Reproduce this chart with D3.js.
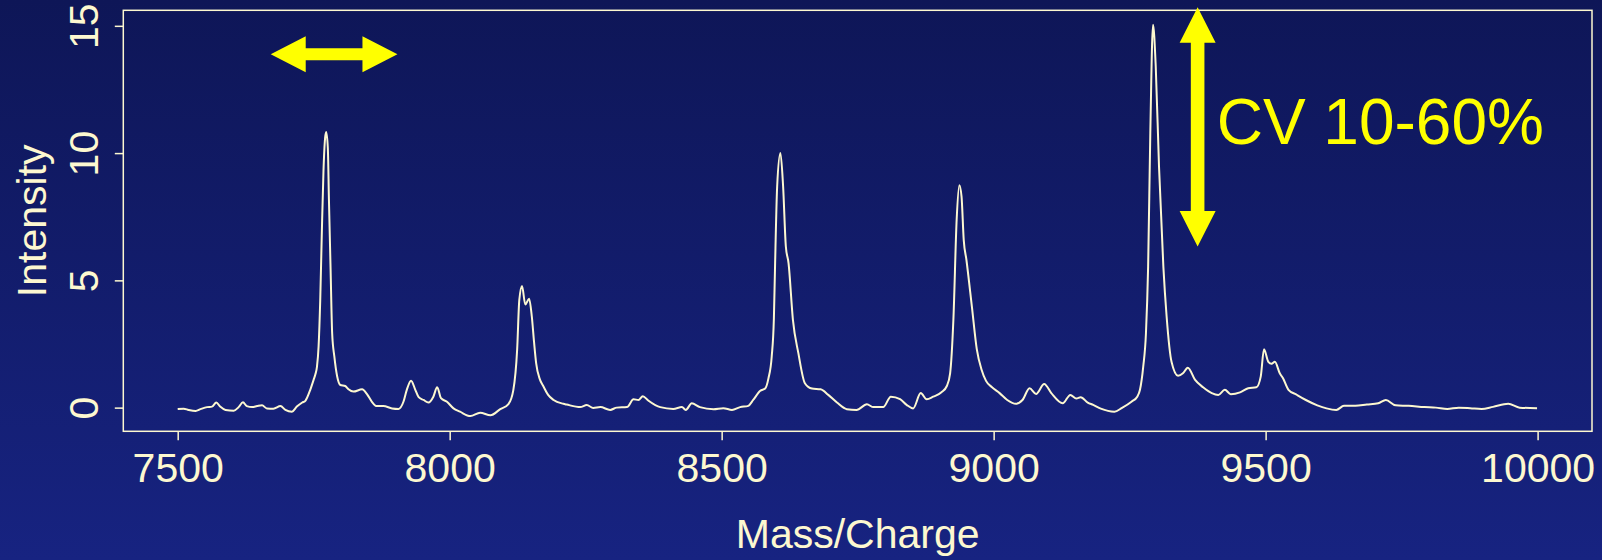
<!DOCTYPE html>
<html>
<head>
<meta charset="utf-8">
<script src="https://cdn.jsdelivr.net/npm/d3@7/dist/d3.min.js"></script>
<style>
  html, body { margin: 0; padding: 0; background: #121c6c; }
  svg { display: block; }
  text { font-family: "Liberation Sans", Arial, Helvetica, sans-serif; }
</style>
</head>
<body>
<svg id="chart" width="1602" height="560"></svg>
<script>
// Mass spectrum: m/z positions and intensities
const massCharge = [
  7500, 7511, 7520, 7533, 7542, 7554, 7563, 7571, 7578, 7588,
  7603, 7612, 7620, 7627, 7637, 7646, 7655, 7664, 7676, 7689,
  7698, 7710, 7719, 7729, 7735, 7744, 7750, 7753, 7756, 7759,
  7762, 7765, 7768, 7771, 7773, 7776, 7778, 7781, 7784, 7788,
  7793, 7799, 7808, 7814, 7823, 7839, 7848, 7857, 7866, 7878,
  7894, 7906, 7915, 7921, 7929, 7937, 7943, 7952, 7961, 7970,
  7977, 7984, 7995, 8007, 8019, 8038, 8056, 8075, 8093, 8108,
  8117, 8124, 8128, 8133, 8139, 8146, 8151, 8155, 8159, 8166,
  8172, 8181, 8191, 8209, 8215, 8240, 8252, 8264, 8277, 8295,
  8307, 8326, 8338, 8347, 8355, 8365, 8378, 8387, 8411, 8427,
  8434, 8445, 8460, 8485, 8503, 8519, 8534, 8549, 8558, 8571,
  8580, 8586, 8592, 8596, 8598, 8602, 8608, 8613, 8618, 8623,
  8631, 8641, 8653, 8666, 8682, 8696, 8712, 8730, 8748, 8767,
  8779, 8797, 8811, 8828, 8840, 8852, 8866, 8877, 8889, 8904,
  8914, 8920, 8926, 8932, 8937, 8941, 8945, 8950, 8960, 8969,
  8978, 8986, 8997, 9011, 9025, 9041, 9053, 9066, 9078, 9093,
  9106, 9127, 9141, 9152, 9160, 9173, 9183, 9197, 9222, 9236,
  9254, 9264, 9269, 9275, 9280, 9284, 9288, 9293, 9298, 9304,
  9312, 9318, 9327, 9339, 9348, 9357, 9370, 9385, 9401, 9413,
  9425, 9436, 9453, 9468, 9483, 9491, 9497, 9505, 9511, 9517,
  9526, 9532, 9542, 9556, 9574, 9595, 9612, 9630, 9644, 9665,
  9686, 9707, 9721, 9739, 9763, 9792, 9813, 9834, 9855, 9876,
  9897, 9918, 9946, 9967, 9999
];
const intensity = [
  -0.05, -0.04, -0.09, -0.13, -0.06, 0.02, 0.04, 0.20, 0.04, -0.09,
  -0.12, 0.02, 0.21, 0.06, 0.02, 0.06, 0.09, -0.03, -0.04, 0.06,
  -0.09, -0.16, 0.04, 0.20, 0.28, 0.72, 1.10, 1.30, 1.60, 2.40,
  4.20, 6.90, 9.30, 10.60, 10.83, 10.20, 8.20, 5.50, 2.90, 2.00,
  1.24, 0.89, 0.85, 0.72, 0.63, 0.72, 0.53, 0.23, 0.06, 0.06,
  -0.03, -0.05, 0.23, 0.69, 1.06, 0.69, 0.41, 0.30, 0.20, 0.43,
  0.80, 0.37, 0.23, -0.03, -0.16, -0.33, -0.20, -0.30, -0.06, 0.14,
  0.69, 2.27, 4.23, 4.78, 4.05, 4.28, 3.58, 2.60, 1.74, 1.10,
  0.85, 0.50, 0.30, 0.15, 0.12, 0.02, 0.10, -0.01, 0.02, -0.09,
  0.00, 0.02, 0.33, 0.30, 0.45, 0.28, 0.10, 0.02, -0.05, 0.02,
  -0.09, 0.17, 0.02, -0.06, -0.02, -0.09, 0.02, 0.07, 0.30, 0.66,
  0.75, 1.15, 2.00, 3.50, 5.41, 8.68, 10.00, 8.68, 6.33, 5.67,
  3.45, 2.14, 0.96, 0.75, 0.72, 0.50, 0.20, -0.06, -0.09, 0.13,
  0.02, 0.02, 0.43, 0.33, 0.11, -0.03, 0.57, 0.33, 0.43, 0.60,
  0.85, 1.35, 3.45, 7.38, 8.74, 8.29, 6.59, 5.80, 3.97, 2.30,
  1.48, 1.05, 0.80, 0.57, 0.30, 0.15, 0.30, 0.76, 0.54, 0.93,
  0.57, 0.17, 0.50, 0.36, 0.41, 0.20, 0.11, -0.04, -0.16, -0.01,
  0.24, 0.43, 0.70, 1.61, 2.92, 5.54, 10.78, 15.04, 13.40, 9.47,
  5.54, 3.58, 1.80, 1.25, 1.35, 1.57, 1.10, 0.80, 0.57, 0.50,
  0.70, 0.53, 0.60, 0.76, 0.80, 1.22, 2.29, 1.80, 1.72, 1.80,
  1.35, 1.15, 0.70, 0.52, 0.30, 0.09, -0.03, -0.09, 0.07, 0.07,
  0.12, 0.17, 0.30, 0.09, 0.07, 0.02, 0.00, -0.05, 0.00, -0.02,
  -0.05, 0.03, 0.15, 0.00, -0.02
];

// Axis ticks and titles
const xTicks = [7500, 8000, 8500, 9000, 9500, 10000];
const yTicks = [0, 5, 10, 15];
const xTitle = "Mass/Charge";
const yTitle = "Intensity";

// Annotations (data units): m/z shift arrow and peak-height variability arrow
const shiftArrowMz = [7671, 7904];
const shiftArrowLevel = [13.88];
const cvArrowMz = [9375];
const cvArrowRange = [6.33, 15.73];
const cvLabel = ["CV 10-60%"];
const cvLabelPos = [9410, 10.36];

// Layout
const W = 1602, H = 560;
const box = { left: 123.3, right: 1592, top: 10.3, bottom: 431.3 };
const ink = "#fdf8d0";
const accent = "#ffff00";
const fontSize = 41;

const svg = d3.select("#chart");

// Background gradient
const defs = svg.append("defs");
const grad = defs.append("linearGradient")
  .attr("id", "bg").attr("x1", 0).attr("y1", 0).attr("x2", 0).attr("y2", 1);
grad.append("stop").attr("offset", "0%").attr("stop-color", "#0e1657");
grad.append("stop").attr("offset", "100%").attr("stop-color", "#172381");
svg.append("rect").attr("width", W).attr("height", H).attr("fill", "url(#bg)");

// Scales: 4% padding around the data range on both axes
const x = d3.scaleLinear().domain([7400, 10100]).range([box.left, box.right]);
const y = d3.scaleLinear().domain([-0.93, 15.61]).range([box.bottom, box.top]);

// Plot frame
svg.append("rect")
  .attr("x", box.left).attr("y", box.top)
  .attr("width", box.right - box.left).attr("height", box.bottom - box.top)
  .attr("fill", "none").attr("stroke", ink).attr("stroke-width", 1.5);

// Bottom axis
const gx = svg.append("g")
  .attr("transform", `translate(0,${box.bottom})`)
  .call(d3.axisBottom(x).tickValues(xTicks).tickFormat(d3.format("d"))
        .tickSize(9).tickSizeOuter(0).tickPadding(0));
gx.select(".domain").remove();
gx.selectAll(".tick line").attr("stroke", ink).attr("stroke-width", 1.5);
gx.selectAll(".tick text")
  .attr("fill", ink).attr("font-size", fontSize)
  .attr("dy", 0).attr("y", 482 - box.bottom);

// Left axis, labels rotated parallel to the axis
const gy = svg.append("g")
  .attr("transform", `translate(${box.left},0)`)
  .call(d3.axisLeft(y).tickValues(yTicks).tickSize(8.5).tickSizeOuter(0).tickPadding(0));
gy.select(".domain").remove();
gy.selectAll(".tick line").attr("stroke", ink).attr("stroke-width", 1.5);
gy.selectAll(".tick text")
  .attr("fill", ink).attr("font-size", fontSize)
  .attr("text-anchor", "middle")
  .attr("transform", "rotate(-90)")
  .attr("x", 0).attr("dy", 0).attr("y", -(box.left - 98));

// Axis titles
svg.append("text")
  .attr("x", (box.left + box.right) / 2).attr("y", 548)
  .attr("text-anchor", "middle").attr("fill", ink).attr("font-size", fontSize)
  .text(xTitle);
svg.append("text")
  .attr("transform", `translate(46,${(box.top + box.bottom) / 2}) rotate(-90)`)
  .attr("text-anchor", "middle").attr("fill", ink).attr("font-size", fontSize)
  .text(yTitle);

// Spectrum trace
const pts = massCharge.map((m, i) => [m, intensity[i]]);
svg.append("path")
  .datum(pts)
  .attr("fill", "none")
  .attr("stroke", ink)
  .attr("stroke-width", 2)
  .attr("stroke-linejoin", "round")
  .attr("d", d3.line().x(d => x(d[0])).y(d => y(d[1])).curve(d3.curveMonotoneX));

// Double-headed arrow builders
function hArrow(x1, x2, yc, headLen, headHalf, shaftHalf) {
  return [
    [x1, yc], [x1 + headLen, yc - headHalf], [x1 + headLen, yc - shaftHalf],
    [x2 - headLen, yc - shaftHalf], [x2 - headLen, yc - headHalf], [x2, yc],
    [x2 - headLen, yc + headHalf], [x2 - headLen, yc + shaftHalf],
    [x1 + headLen, yc + shaftHalf], [x1 + headLen, yc + headHalf]
  ];
}
function vArrow(xc, y1, y2, headLen, headHalf, shaftHalf) {
  return hArrow(y1, y2, xc, headLen, headHalf, shaftHalf).map(p => [p[1], p[0]]);
}

svg.append("polygon")
  .attr("points", hArrow(x(shiftArrowMz[0]), x(shiftArrowMz[1]), y(shiftArrowLevel[0]), 35, 18, 6).join(" "))
  .attr("fill", accent);

svg.append("polygon")
  .attr("points", vArrow(x(cvArrowMz[0]), y(cvArrowRange[1]), y(cvArrowRange[0]), 35.5, 18, 6.8).join(" "))
  .attr("fill", accent);

svg.append("text")
  .attr("x", x(cvLabelPos[0])).attr("y", y(cvLabelPos[1]))
  .attr("fill", accent).attr("font-size", 64)
  .text(cvLabel[0]);
</script>
</body>
</html>
